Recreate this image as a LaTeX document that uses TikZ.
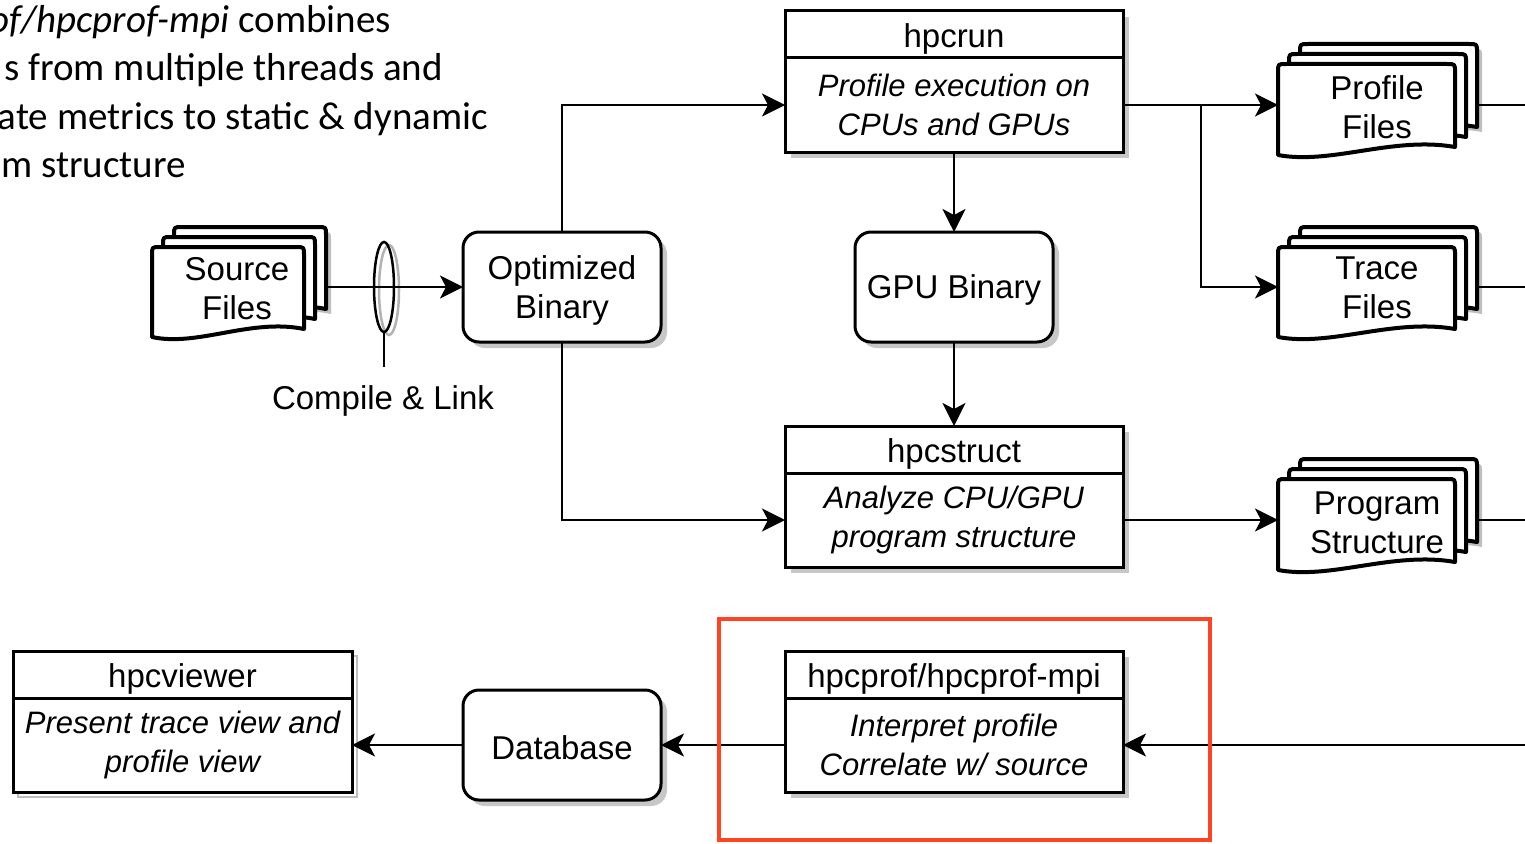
\documentclass[tikz,border=0pt]{standalone}
\usepackage{fontspec}
\setmainfont{Liberation Sans}
\newfontfamily\calfont{Carlito}
\usetikzlibrary{arrows.meta,shadows,shapes.geometric,backgrounds,calc}
\definecolor{redsel}{HTML}{FF4422}
\newcommand\docshape[5]{%
  \path[#1] (#2,{#3+#5}) -- (#2,{#3+8}) .. controls (#2,#3) .. ({#2+8},#3)
    -- ({#2+#4-8},#3) .. controls ({#2+#4},#3) .. ({#2+#4},{#3+8})
    -- ({#2+#4},{#3+#5-8}) .. controls ({#2+0.65*#4},{#3+#5-19}) and ({#2+0.3*#4},{#3+#5+10}) .. (#2,{#3+#5}) -- cycle;}
\newcommand\docstack[5]{%
  \pgfmathsetmacro\dxa{#2+22}\pgfmathsetmacro\dya{#3-20}%
  \pgfmathsetmacro\dxb{#2+11}\pgfmathsetmacro\dyb{#3-10}%
  \pgfmathsetmacro\dxs{#2+27}\pgfmathsetmacro\dys{#3-15}%
  \docshape{docshadow}{\dxs}{\dys}{#4}{#5}%
  \docshape{doc}{\dxa}{\dya}{#4}{#5}%
  \docshape{doc}{\dxb}{\dyb}{#4}{#5}%
  \docshape{doc}{#2}{#3}{#4}{#5}%
  \node[inner sep=0pt, outer sep=0pt, minimum width={#4+22}, minimum height={#5+20}, anchor=north west] (#1) at (#2,\dya) {};}
\newcommand\tstrut{\rule{0pt}{30pt}}
\begin{document}
\begin{tikzpicture}[x=1pt,y=-1pt,
  box/.style={draw, line width=3pt, fill=white, minimum width=338pt, inner sep=0pt, outer sep=0pt},
  shad/.style={drop shadow={shadow xshift=6pt, shadow yshift=-6pt, fill=black!22, opacity=1}},
  ttl/.style={box, shad, minimum height=47pt, text height=26pt, text depth=0pt, font=\fontsize{33}{40}\selectfont},
  bdy/.style={box, shad, minimum height=94pt, align=center, font=\fontsize{31}{39}\selectfont\itshape},
  rbox/.style={draw, line width=3pt, fill=white, rounded corners=16pt, minimum width=198pt, minimum height=110pt, align=center, outer sep=0pt, font=\fontsize{33}{39}\selectfont, shad},
  arr/.style={line width=2.5pt, -{Stealth[length=23pt,width=23pt,inset=6pt]}},
  ln/.style={line width=2.5pt},
  doc/.style={draw, line width=4pt, fill=white, line join=round},
  docshadow/.style={fill=black!25},
  doctext/.style={align=center, font=\fontsize{33}{39}\selectfont},
  note/.style={font=\calfont\fontsize{39}{48}\selectfont, anchor=base east, inner sep=0pt}]
\useasboundingbox (0,0) rectangle (1525,843);
\fill[white] (0,0) rectangle (1525,843);
\clip (0,0) rectangle (1525,843);

% note text (clipped at left, as in the reference)
\node[note] (n1) at (391,33) {\textit{of/hpcprof-mpi} combines};
\node[note] (n2) at (443,81) {s from multiple threads and};
\node[note] (n3) at (488,129) {ate metrics to static \& dynamic};
\node[note] (n4) at (186,177) {m structure};

% process boxes
\node[ttl, anchor=north] (hpcrunT) at (954,11) {hpcrun};
\node[bdy, anchor=north] (hpcrun) at (hpcrunT.south) {Profile execution on\\CPUs and GPUs};
\node[ttl, anchor=north] (structT) at (954,426) {hpcstruct};
\node[bdy, anchor=north] (struct) at (structT.south) {Analyze CPU/GPU\\program structure};
\node[ttl, anchor=north] (profT) at (954,651) {hpcprof/hpcprof-mpi};
\node[bdy, anchor=north] (prof) at (profT.south) {Interpret profile\\Correlate w/ source};
\draw[black!25, line width=2pt] (18,656) rectangle (357,797);
\node[box, minimum width=339pt, minimum height=47pt, text height=26pt, text depth=0pt, font=\fontsize{33}{40}\selectfont, anchor=north] (viewT) at (182.5,651) {hpcviewer};
\node[box, minimum width=339pt, minimum height=94pt, align=center, font=\fontsize{31}{39}\selectfont\itshape, anchor=north] (view) at (viewT.south) {Present trace view and\\profile view};

\node[rbox] (opt) at (562,287) {\tstrut Optimized\\Binary};
\node[rbox] (gpu) at (954,287) {\tstrut GPU Binary};
\node[rbox] (db) at (562,745) {\tstrut Database};

% document stacks
\docstack{src}{152}{247}{152}{90}
\node[doctext] (srcL) at (237,289) {Source\\Files};
\docstack{pf}{1278}{64}{177}{91}
\node[doctext] (pfL) at (1377,107) {Profile\\Files};
\docstack{tf}{1278}{247}{177}{90}
\node[doctext] (tfL) at (1377,288) {Trace\\Files};
\docstack{ps}{1278}{479}{177}{91}
\node[doctext] (psL) at (1377,523) {Program\\Structure};

% compile & link lens
\node[draw=black!30, line width=2.5pt, ellipse, minimum width=20pt, minimum height=90pt, inner sep=0pt] (lensS) at (389,290) {};
\node[draw, line width=2.5pt, ellipse, minimum width=20pt, minimum height=90pt, inner sep=0pt, outer sep=0pt] (lens) at (384,287) {};
\node[font=\fontsize{33}{40}\selectfont] (cl) at (383,401) {Compile \& Link};
\draw[ln] (lens.south) -- (lens.south |- 0,367);

% connectors
\coordinate (eP) at (1525,105);
\coordinate (eT) at (1525,287);
\coordinate (eS) at (1525,520);
\coordinate (eB) at (1525,745);
\coordinate (br) at (1201,105);
\draw[arr] (src.east |- opt.west) -- (opt.west);
\draw[arr] (opt.north) |- (hpcrun.west);
\draw[arr] (opt.south) |- (struct.west);
\draw[arr] (hpcrun.south) -- (gpu.north);
\draw[arr] (gpu.south) -- (structT.north);
\draw[arr] (hpcrun.east) -- (hpcrun.east -| pf.west);
\draw[arr] (br) |- (tf.west |- eT);
\draw[arr] (struct.east) -- (struct.east -| ps.west);
\draw[ln] (pf.east |- eP) -- (eP);
\draw[ln] (tf.east |- eT) -- (eT);
\draw[ln] (ps.east |- eS) -- (eS);
\draw[arr] (eB) -- (prof.east);
\draw[arr] (prof.west) -- (prof.west -| db.east);
\draw[arr] (db.west) -- (db.west -| view.east);

% highlight
\node[draw=redsel, line width=4pt, minimum width=491pt, minimum height=221pt, inner sep=0pt] (sel) at (964.5,729.5) {};
\end{tikzpicture}
\end{document}
